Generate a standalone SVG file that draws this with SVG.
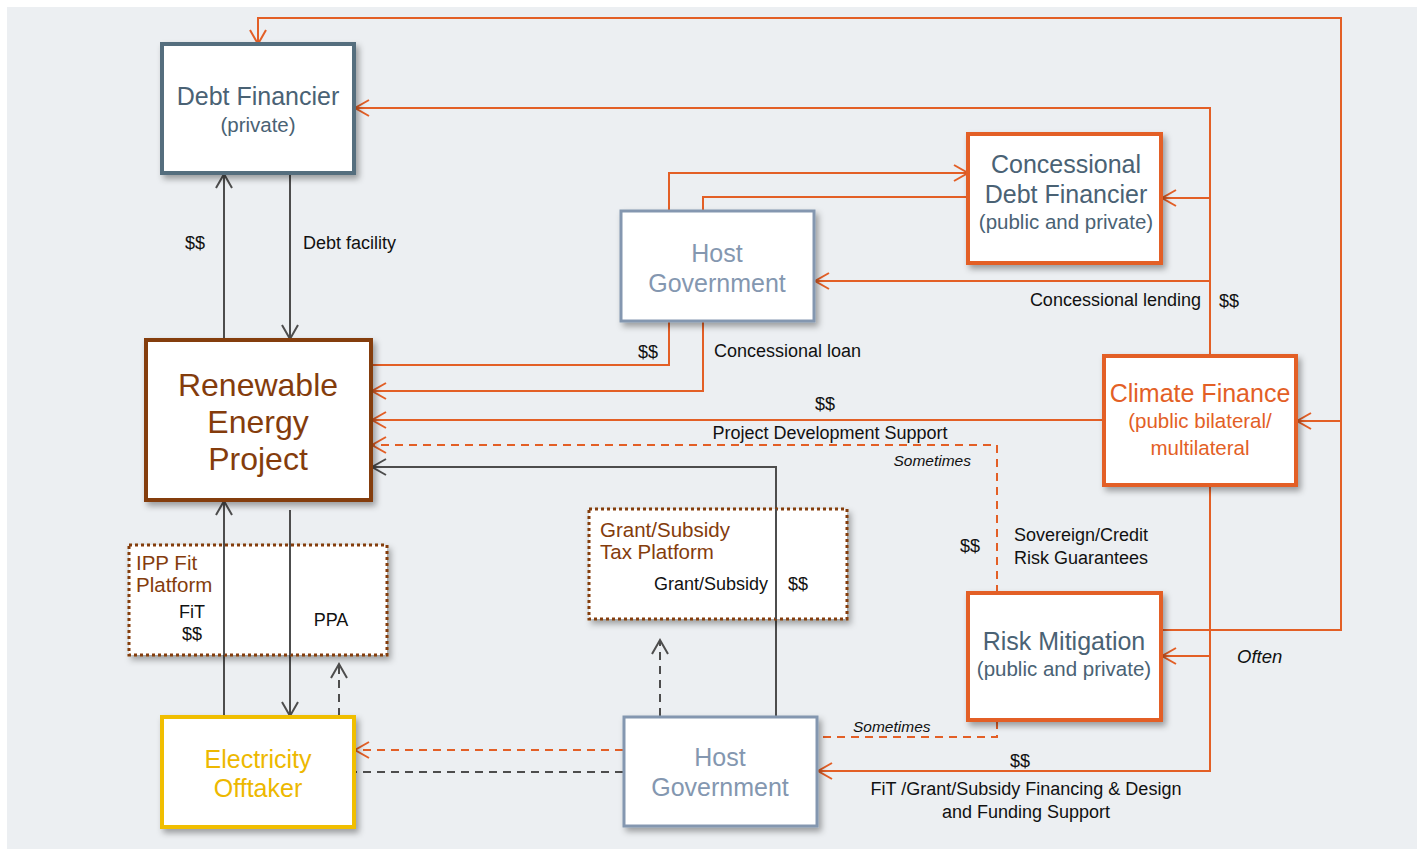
<svg xmlns="http://www.w3.org/2000/svg" width="1417" height="849" viewBox="0 0 1417 849">
<defs>
<filter id="sh" x="-10%" y="-10%" width="130%" height="130%">
<feDropShadow dx="3" dy="4" stdDeviation="3" flood-color="#000" flood-opacity="0.35"/>
</filter>
<marker id="ao" markerUnits="userSpaceOnUse" markerWidth="18" markerHeight="20" refX="15" refY="9" orient="auto">
<path d="M1,1 L15,9 L1,17" fill="none" stroke="#E35F26" stroke-width="2"/>
</marker>
<marker id="ag" markerUnits="userSpaceOnUse" markerWidth="18" markerHeight="20" refX="15" refY="9" orient="auto">
<path d="M1,1 L15,9 L1,17" fill="none" stroke="#4D4D4D" stroke-width="2"/>
</marker>
</defs>
<style>
.box{fill:#fff;filter:url(#sh)}
.o{fill:none;stroke:#E35F26;stroke-width:2}
.od{fill:none;stroke:#E35F26;stroke-width:2;stroke-dasharray:8,6}
.g{fill:none;stroke:#4D4D4D;stroke-width:2}
.gd{fill:none;stroke:#4D4D4D;stroke-width:2;stroke-dasharray:8,6}
text{font-family:"Liberation Sans",Arial,sans-serif}
.lbl{font-size:18px;fill:#111}
.it{font-size:15.5px;fill:#111;font-style:italic}
.often{font-size:18.5px;fill:#111;font-style:italic}
.t1{font-size:25px;text-anchor:middle}
.t2{font-size:20.5px;text-anchor:middle}
.pf{font-size:20.5px;fill:#843C0C}
</style>
<rect x="7" y="7" width="1410" height="842" fill="#ECEFF2"/>

<g id="connectors">
<path class="o" d="M1161,630 H1341 V18 H258 V44" marker-end="url(#ao)"/>
<path class="o" d="M1341,421 H1297" marker-end="url(#ao)"/>
<path class="o" d="M1210,356 V108 H355" marker-end="url(#ao)"/>
<path class="o" d="M1209,198 H1162" marker-end="url(#ao)"/>
<path class="o" d="M1209,281 H815" marker-end="url(#ao)"/>
<path class="o" d="M1210,485 V771 H818" marker-end="url(#ao)"/>
<path class="o" d="M1209,656 H1162" marker-end="url(#ao)"/>
<path class="o" d="M669,211 V173 H968" marker-end="url(#ao)"/>
<path class="o" d="M968,197 H703 V211"/>
<path class="o" d="M669,321 V365 H372"/>
<path class="o" d="M703,321 V391 H372" marker-end="url(#ao)"/>
<path class="o" d="M1104,420 H372" marker-end="url(#ao)"/>
<path class="od" d="M997,593 V445 H372" marker-end="url(#ao)"/>
<path class="g" d="M776,717 V467 H372" marker-end="url(#ag)"/>
<path class="g" d="M224,340 V174" marker-end="url(#ag)"/>
<path class="g" d="M290,173 V339" marker-end="url(#ag)"/>
<path class="g" d="M224,717 V501" marker-end="url(#ag)"/>
<path class="g" d="M290,510 V716" marker-end="url(#ag)"/>
<path class="gd" d="M339,716 V664" marker-end="url(#ag)"/>
<path class="gd" d="M660,716 V640" marker-end="url(#ag)"/>
<path class="od" d="M623,750 H355" marker-end="url(#ao)"/>
<path class="gd" d="M623,772 H355"/>
<path class="od" d="M997,721 V737 H818"/>
</g>

<g id="labels">
<text class="lbl" x="195" y="249" text-anchor="middle">$$</text>
<text class="lbl" x="303" y="249">Debt facility</text>
<text class="lbl" x="658" y="358" text-anchor="end">$$</text>
<text class="lbl" x="714" y="357">Concessional loan</text>
<text class="lbl" x="1201" y="306" text-anchor="end">Concessional lending</text>
<text class="lbl" x="1219" y="307">$$</text>
<text class="lbl" x="825" y="410" text-anchor="middle">$$</text>
<text class="lbl" x="830" y="439" text-anchor="middle">Project Development Support</text>
<text class="it" x="971" y="466" text-anchor="end">Sometimes</text>
<text class="lbl" x="970" y="552" text-anchor="middle">$$</text>
<text class="lbl" x="1014" y="541">Sovereign/Credit</text>
<text class="lbl" x="1014" y="564">Risk Guarantees</text>
<text class="often" x="1237" y="663">Often</text>
<text class="it" x="853" y="732">Sometimes</text>
<text class="lbl" x="1020" y="767" text-anchor="middle">$$</text>
<text class="lbl" x="1026" y="795" text-anchor="middle">FiT /Grant/Subsidy Financing &amp; Design</text>
<text class="lbl" x="1026" y="818" text-anchor="middle">and Funding Support</text>
</g>

<g id="ipp-platform">
<rect x="129" y="545" width="258" height="110" fill="#fff" stroke="#843C0C" stroke-width="3" stroke-dasharray="3,3" filter="url(#sh)"/>
<text class="pf" x="136" y="570">IPP Fit</text>
<text class="pf" x="136" y="592">Platform</text>
<text class="lbl" x="192" y="618" text-anchor="middle">FiT</text>
<text class="lbl" x="192" y="640" text-anchor="middle">$$</text>
<text class="lbl" x="331" y="626" text-anchor="middle">PPA</text>
</g>

<g id="grant-platform">
<rect x="589" y="509" width="258" height="110" fill="#fff" stroke="#843C0C" stroke-width="3" stroke-dasharray="3,3" filter="url(#sh)"/>
<text class="pf" x="600" y="537">Grant/Subsidy</text>
<text class="pf" x="600" y="559">Tax Platform</text>
<text class="lbl" x="768" y="590" text-anchor="end">Grant/Subsidy</text>
<text class="lbl" x="788" y="590">$$</text>
</g>
<g id="connectors-over-platforms">
<path class="g" d="M776,509 V619"/>
<path class="g" d="M224,545 V655"/>
<path class="g" d="M290,545 V655"/>
</g>

<g id="debt-financier">
<rect class="box" x="162" y="44" width="192" height="129" stroke="#546E7E" stroke-width="4"/>
<text class="t1" x="258" y="105" fill="#4A6274">Debt Financier</text>
<text class="t2" x="258" y="132" fill="#4A6274">(private)</text>
</g>

<g id="concessional-debt-financier">
<rect class="box" x="968" y="134" width="193" height="129" stroke="#E35F26" stroke-width="4"/>
<text class="t1" x="1066" y="173" fill="#4A6274">Concessional</text>
<text class="t1" x="1066" y="203" fill="#4A6274">Debt Financier</text>
<text class="t2" x="1066" y="229" fill="#4A6274">(public and private)</text>
</g>

<g id="host-government-top">
<rect class="box" x="621" y="211" width="193" height="110" stroke="#8497B0" stroke-width="3"/>
<text class="t1" x="717" y="262" fill="#8497B0">Host</text>
<text class="t1" x="717" y="292" fill="#8497B0">Government</text>
</g>

<g id="renewable-energy-project">
<rect class="box" x="146" y="340" width="225" height="160" stroke="#843C0C" stroke-width="4"/>
<text x="258" y="396" font-size="32" text-anchor="middle" fill="#843C0C">Renewable</text>
<text x="258" y="433" font-size="32" text-anchor="middle" fill="#843C0C">Energy</text>
<text x="258" y="470" font-size="32" text-anchor="middle" fill="#843C0C">Project</text>
</g>

<g id="climate-finance">
<rect class="box" x="1104" y="356" width="192" height="129" stroke="#E35F26" stroke-width="4"/>
<text class="t1" x="1200" y="402" fill="#E35F26">Climate Finance</text>
<text class="t2" x="1200" y="428" fill="#E35F26">(public bilateral/</text>
<text class="t2" x="1200" y="455" fill="#E35F26">multilateral</text>
</g>

<g id="risk-mitigation">
<rect class="box" x="968" y="593" width="193" height="127" stroke="#E35F26" stroke-width="4"/>
<text class="t1" x="1064" y="650" fill="#4A6274">Risk Mitigation</text>
<text class="t2" x="1064" y="676" fill="#4A6274">(public and private)</text>
</g>

<g id="electricity-offtaker">
<rect class="box" x="162" y="717" width="192" height="110" stroke="#F0BE00" stroke-width="4"/>
<text class="t1" x="258" y="768" fill="#EDB800">Electricity</text>
<text class="t1" x="258" y="797" fill="#EDB800">Offtaker</text>
</g>

<g id="host-government-bottom">
<rect class="box" x="624" y="717" width="193" height="109" stroke="#8497B0" stroke-width="3"/>
<text class="t1" x="720" y="766" fill="#8497B0">Host</text>
<text class="t1" x="720" y="796" fill="#8497B0">Government</text>
</g>
</svg>
